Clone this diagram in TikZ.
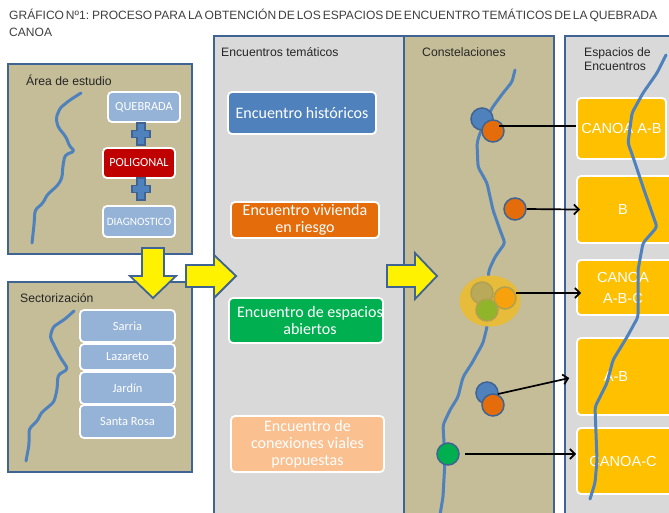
\documentclass[tikz,border=0pt]{standalone}
\usepackage{fontspec}
\setmainfont{Liberation Sans}
\newfontfamily\boxfont{Carlito}
\newfontfamily\titlefont[WordSpace=0.56]{Liberation Sans}
\usetikzlibrary{arrows.meta,shapes.geometric}
\definecolor{panelline}{HTML}{3F6493}
\definecolor{tan}{HTML}{C4BD97}
\definecolor{panelgray}{HTML}{D9D9D9}
\definecolor{riverblue}{HTML}{4F81BD}
\definecolor{lightblue}{HTML}{95B3D7}
\definecolor{redbox}{HTML}{C00000}
\definecolor{orangebox}{HTML}{E46C0A}
\definecolor{greenbox}{HTML}{00B050}
\definecolor{peachbox}{HTML}{FAC090}
\definecolor{goldbox}{HTML}{FFC000}
\definecolor{halogold}{HTML}{E6BC3A}
\definecolor{olivedot}{HTML}{B8AA58}
\definecolor{amberdot}{HTML}{F7A20C}
\definecolor{limedot}{HTML}{90B52A}
\definecolor{softring}{HTML}{B0A050}
\tikzset{
	panel/.style={draw=panelline,line width=1.9pt},
	caption/.style={anchor=west,text=black!85,font=\fontsize{12.2}{14}\selectfont,align=left,inner sep=0pt},
	card/.style={draw=white,line width=1.8pt,rounded corners=4pt,text=white,align=center,inner sep=0pt,font=\boxfont\fontsize{12.4}{14}\selectfont},
	bigcard/.style={card,font=\boxfont\fontsize{16}{17}\selectfont},
	goldcard/.style={card,fill=goldbox,font=\fontsize{14.6}{21}\selectfont},
	river/.style={draw=riverblue,line width=3pt,line join=round,line cap=round,rounded corners=3pt},
	bigarrow/.style={draw=panelline,fill=yellow,line width=1.8pt,line join=miter},
	plus/.style={draw=panelline,fill=riverblue,line width=1.4pt},
	dot/.style={circle,draw=panelline,line width=1.5pt,minimum size=22pt,inner sep=0pt},
	softdot/.style={circle,draw=softring,line width=1.5pt,minimum size=22pt,inner sep=0pt},
	plainflow/.style={draw=black,line width=1.7pt},
	flow/.style={plainflow,-{Straight Barb[length=5pt,width=10pt]}},
}
\begin{document}
\begin{tikzpicture}[x=1pt,y=-1pt]
	\clip (0,0) rectangle (669,512);
	\fill[white] (0,0) rectangle (669,512);
	% title
	\node[caption,anchor=north west,text=black!75,font=\titlefont\fontsize{12.05}{17}\selectfont] (title) at (9,9) {GRÁFICO Nº1: PROCESO PARA LA OBTENCIÓN DE LOS ESPACIOS DE ENCUENTRO TEMÁTICOS DE LA QUEBRADA\\CANOA};
	% panels
	\draw[panel,fill=tan] (8,64) rectangle (192,254);
	\draw[panel,fill=tan] (8,282) rectangle (192,472);
	\draw[panel,fill=panelgray] (214,36) rectangle (404,530);
	\draw[panel,fill=tan] (404,36) rectangle (554,530);
	\draw[panel,fill=panelgray] (565,36) rectangle (700,530);
	\node[caption] (estudio) at (26,80) {Área de estudio};
	\node[caption] (sector) at (20,298) {Sectorización};
	\node[caption] (tematicos) at (221,52) {Encuentros temáticos};
	\node[caption] (constela) at (422,52) {Constelaciones};
	\node[caption] (espacios) at (584,59) {Espacios de\\Encuentros};
	% area de estudio
	\node[card,fill=lightblue,minimum width=72pt,minimum height=30pt] (quebrada) at (144,107) {QUEBRADA};
	\node[card,fill=redbox,minimum width=72pt,minimum height=30pt] (poligonal) at (139,163) {POLIGONAL};
	\node[card,fill=lightblue,minimum width=72pt,minimum height=31pt,font=\boxfont\fontsize{11.2}{14}\selectfont] (diagnostico) at (139,221.5) {DIAGNOSTICO};
	\foreach \py in {134,189}
		\draw[plus] (137,\py-11) -- ++(8,0) -- ++(0,7.5) -- ++(5,0) -- ++(0,7) -- ++(-5,0) -- ++(0,7.5) -- ++(-8,0) -- ++(0,-7.5) -- ++(-5,0) -- ++(0,-7) -- ++(5,0) -- cycle;
	\draw[river] (81,93) -- (70,100) -- (60,108) -- (56,118) -- (58,127) -- (66,137) -- (70,147) -- (75,151) -- (65,155) -- (63,165) -- (62,178) -- (58,185) -- (47,195) -- (43,203) -- (35,210) -- (34,225) -- (32,243);
	% sectorizacion
	\node[card,fill=lightblue,minimum width=95pt,minimum height=32pt] (sarria) at (127.5,326) {Sarria};
	\node[card,fill=lightblue,minimum width=95pt,minimum height=26pt] (lazareto) at (127.5,357) {Lazareto};
	\node[card,fill=lightblue,minimum width=95pt,minimum height=32pt] (jardin) at (127.5,388) {Jardín};
	\node[card,fill=lightblue,minimum width=95pt,minimum height=33pt] (rosa) at (127.5,421.5) {Santa Rosa};
	\draw[river] (74,311) -- (65,319) -- (53,327) -- (50,337) -- (55,347) -- (60,357) -- (68,369) -- (58,375) -- (57,390) -- (54,402) -- (41,413) -- (38,420) -- (29,429) -- (29,445) -- (26,461);
	% encuentros
	\node[bigcard,fill=riverblue,minimum width=148pt,minimum height=42pt] (historicos) at (302,113) {Encuentro históricos};
	\node[bigcard,fill=orangebox,minimum width=148pt,minimum height=36pt] (vivienda) at (305,220) {Encuentro vivienda\\en riesgo};
	\node[bigcard,fill=greenbox,minimum width=154pt,minimum height=45pt] (abiertos) at (306,320.5) {\hspace*{8pt}Encuentro de espacios\\\hspace*{8pt}abiertos};
	\node[bigcard,fill=peachbox,minimum width=153pt,minimum height=56pt] (viales) at (307.5,444) {Encuentro de\\conexiones viales\\propuestas};
	% espacios
	\node[goldcard,minimum width=89pt,minimum height=61pt] (espA) at (621.5,128.5) {CANOA A-B};
	\node[goldcard,minimum width=100pt,minimum height=67pt] (espB) at (627,209.5) {\hspace{-8pt}B};
	\node[goldcard,minimum width=100pt,minimum height=55pt] (espC) at (627,287.5) {\hspace{-8pt}CANOA\\\hspace{-8pt}A-B-C};
	\node[goldcard,minimum width=100pt,minimum height=77pt] (espD) at (627,376.5) {\hspace{-22pt}A-B};
	\node[goldcard,minimum width=100pt,minimum height=66pt] (espE) at (627,461) {\hspace{-8pt}CANOA-C};
	% rios
	\draw[river] (515,70) -- (512,82) -- (503,93) -- (492,108) -- (480,133) -- (477,143) -- (478,167) -- (487,183) -- (493,210) -- (500,230) -- (505,243) -- (495,257) -- (489,270) -- (488,280) -- (487,327) -- (483,343) -- (472,363) -- (463,377) -- (458,397) -- (450,410) -- (443,425) -- (445,460) -- (443,497) -- (440,515);
	\draw[river] (666,55) -- (657,73) -- (643,93) -- (632,113) -- (628,143) -- (633,157) -- (643,187) -- (657,227) -- (643,243) -- (638,270) -- (638,317) -- (627,337) -- (613,360) -- (607,383) -- (595,407) -- (597,460) -- (595,483) -- (590,499);
	% constelaciones
	\node[dot,fill=riverblue] (blueA) at (482,119) {};
	\node[dot,fill=orangebox] (orangeA) at (493,131) {};
	\node[dot,fill=orangebox] (orangeB) at (515,209) {};
	\node[ellipse,fill=halogold,minimum width=61pt,minimum height=51pt,inner sep=0pt] (halo) at (490,301) {};
	\node[softdot,fill=olivedot] (oliveC) at (482,293) {};
	\node[softdot,fill=amberdot] (amberC) at (505,298) {};
	\node[softdot,fill=limedot] (limeC) at (487,310) {};
	\node[dot,fill=riverblue] (blueD) at (487,393) {};
	\node[dot,fill=orangebox] (orangeD) at (493,405) {};
	\node[dot,fill=greenbox] (greenE) at (448,454) {};
	% flechas
	\coordinate (startA) at (499,126);
	\draw[plainflow] (startA) -- (espA.west |- startA);
	\draw[flow,shorten >=-4pt] (orangeB.east) -- (espB.west);
	\coordinate (startC) at (516,293);
	\draw[flow,shorten >=-5pt] (startC) -- (espC.west |- startC);
	\coordinate (startD) at (498,394);
	\draw[flow,shorten >=7pt] (startD) -- (espD.west);
	\coordinate (startE) at (465,454);
	\draw[flow] (startE) -- (espE.west |- startE);
	% flechas amarillas
	\draw[bigarrow] (142,248) -- (164,248) -- (164,276) -- (176,276) -- (153,298) -- (130,276) -- (142,276) -- cycle;
	\draw[bigarrow] (186,265) -- (214,265) -- (214,255) -- (236,276) -- (214,298) -- (214,287) -- (186,287) -- cycle;
	\draw[bigarrow] (387,265) -- (415,265) -- (415,253) -- (437,276) -- (415,299) -- (415,287) -- (387,287) -- cycle;
\end{tikzpicture}
\end{document}
